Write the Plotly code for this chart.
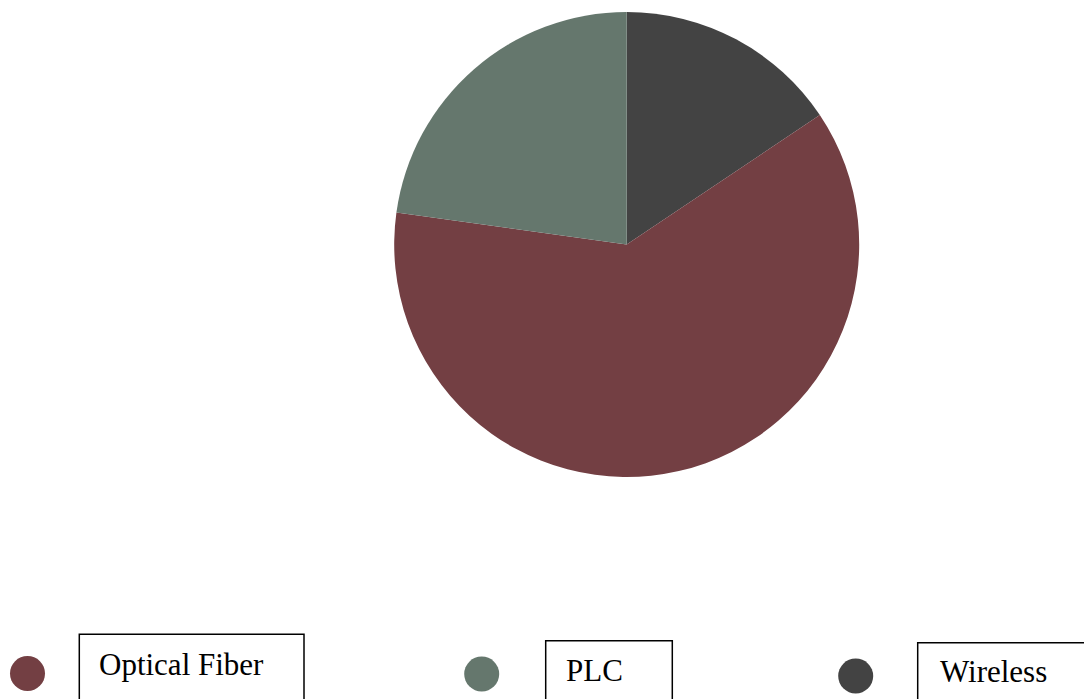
import plotly.graph_objects as go

labels = ["Wireless", "Optical Fiber", "PLC"]
values = [15.6, 61.6, 22.8]
colors = ["#434343", "#733F43", "#65776D"]

legend_labels = ["Optical Fiber", "PLC", "Wireless"]
legend_colors = ["#733F43", "#65776D", "#434343"]

W, H = 1084, 699

def px(x):
    return x / W

def py(y):
    return 1 - y / H

cx, cy, r = 626.7, 244.5, 232.5

fig = go.Figure(go.Pie(
    labels=labels, values=values, sort=False, direction="clockwise", rotation=0,
    marker=dict(colors=colors, line=dict(width=0)),
    textinfo="none", hoverinfo="label+percent", showlegend=False,
    domain=dict(x=[px(cx - r), px(cx + r)], y=[py(cy + r), py(cy - r)]),
))

# legend layout (pixels)
circles = [(27.5, 673.5), (481.7, 674.0), (855.7, 676.0)]
boxes = [(79.3, 634.3, 304.0), (545.7, 640.7, 672.3), (917.7, 642.7, 1100.0)]
text_pos = [(97.0, 664.5), (563.7, 670.0), (937.7, 671.0)]
cr = 17.5

shapes = []
annotations = []
for i, lab in enumerate(legend_labels):
    ccx, ccy = circles[i]
    shapes.append(dict(type="circle", xref="paper", yref="paper",
                       x0=px(ccx - cr), x1=px(ccx + cr), y0=py(ccy + cr), y1=py(ccy - cr),
                       fillcolor=legend_colors[i], line=dict(width=0)))
    bx0, by0, bx1 = boxes[i]
    shapes.append(dict(type="rect", xref="paper", yref="paper",
                       x0=px(bx0), x1=px(bx1), y0=py(720), y1=py(by0),
                       fillcolor="rgba(0,0,0,0)", line=dict(color="black", width=1.5)))
    tx, ty = text_pos[i]
    annotations.append(dict(text=lab, xref="paper", yref="paper", x=px(tx), y=py(ty),
                            xanchor="left", yanchor="middle", showarrow=False,
                            font=dict(family="Liberation Serif, Times New Roman, serif", size=31, color="black")))

fig.update_layout(
    width=W, height=H, margin=dict(l=0, r=0, t=0, b=0),
    paper_bgcolor="white", plot_bgcolor="white",
    shapes=shapes, annotations=annotations,
)

fig.write_html("out.html")
